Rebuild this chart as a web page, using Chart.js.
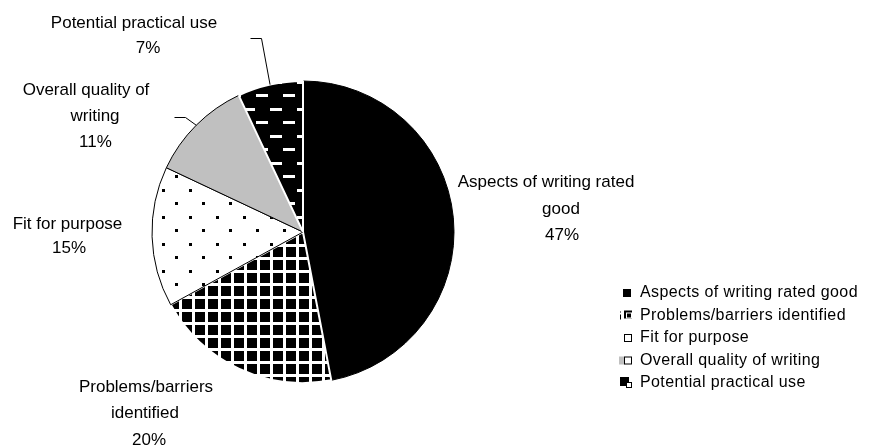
<!DOCTYPE html>
<html><head><meta charset="utf-8">
<script src="https://cdn.jsdelivr.net/npm/chart.js@4.4.0/dist/chart.umd.min.js"></script>
<style>html,body{margin:0;padding:0;background:#fff;}canvas{display:block}</style>
</head><body>
<canvas id="c" width="870" height="445"></canvas>
<script>
// ---- data ----
const categories = ['Aspects of writing rated good', 'Problems/barriers identified', 'Fit for purpose', 'Overall quality of writing', 'Potential practical use'];
const values = [47, 20, 15, 11, 7];
const labelLines = [
  ['Aspects of writing rated', 'good'],
  ['Problems/barriers', 'identified'],
  ['Fit for purpose'],
  ['Overall quality of', 'writing'],
  ['Potential practical use']
];

// ---- layout (label placement, not data) ----
const labelLayout = [
  { xs: [546, 561, 562], y0: 187, lh: 26.5 },
  { xs: [146, 145, 149], y0: 392, lh: 26.3 },
  { xs: [67.5, 69], y0: 229, lh: 24 },
  { xs: [86, 95, 95.5], y0: 95, lh: 25.8 },
  { xs: [134, 148], y0: 28, lh: 25 }
];
const leaders = { 3: [[185, 117], [174, 117]], 4: [[261, 38], [250, 38]] };

// ---- patterns ----
function tile(w, h, fn) {
  const c = document.createElement('canvas'); c.width = w; c.height = h;
  const g = c.getContext('2d'); fn(g); return c;
}
const cctx = document.getElementById('c').getContext('2d');
const gridPat = cctx.createPattern(tile(13, 13, g => {
  g.fillStyle = '#fff'; g.fillRect(0, 0, 13, 13);
  g.fillStyle = '#000'; g.fillRect(0, 0, 10, 10);
}), 'repeat');
const dotPat = cctx.createPattern(tile(27, 27, g => {
  g.fillStyle = '#fff'; g.fillRect(0, 0, 27, 27);
  g.fillStyle = '#000'; g.fillRect(0, 0, 3, 3); g.fillRect(13, 13, 3, 3);
}), 'repeat');
const dashPat = cctx.createPattern(tile(27, 27, g => {
  g.fillStyle = '#000'; g.fillRect(0, 0, 27, 27);
  g.fillStyle = '#fff'; g.fillRect(0, 0, 12, 3); g.fillRect(13, 13, 12, 3);
}), 'repeat');
const fills = ['#000000', gridPat, dotPat, '#c0c0c0', dashPat];

const FONT = '"Liberation Sans", Arial, sans-serif';

const labelPlugin = {
  id: 'sliceLabels',
  afterDatasetsDraw(chart) {
    const ctx = chart.ctx;
    const arcs = chart.getDatasetMeta(0).data;
    ctx.save();
    // leader lines
    ctx.strokeStyle = '#000'; ctx.lineWidth = 1;
    Object.keys(leaders).forEach(k => {
      const a = arcs[k];
      const mid = (a.startAngle + a.endAngle) / 2;
      const sx = a.x + Math.cos(mid) * a.outerRadius;
      const sy = a.y + Math.sin(mid) * a.outerRadius;
      const pts = leaders[k];
      ctx.beginPath(); ctx.moveTo(sx, sy);
      pts.forEach(p => ctx.lineTo(p[0] + 0.5, p[1] + 0.5));
      ctx.stroke();
    });
    // text
    ctx.fillStyle = '#000';
    ctx.font = '17px ' + FONT;
    ctx.textAlign = 'center'; ctx.textBaseline = 'alphabetic';
    values.forEach((v, i) => {
      const lines = labelLines[i].concat([v + '%']);
      const L = labelLayout[i];
      lines.forEach((t, j) => ctx.fillText(t, L.xs[j], L.y0 + j * L.lh));
    });
    ctx.restore();
  }
};

const legendPlugin = {
  id: 'sideLegend',
  afterDraw(chart) {
    const ctx = chart.ctx;
    ctx.save();
    ctx.font = '16px ' + FONT;
    try { ctx.letterSpacing = '0.4px'; } catch (e) {}
    ctx.textAlign = 'left'; ctx.textBaseline = 'alphabetic';
    categories.forEach((name, i) => {
      const by = 297 + i * 22.5;
      // marker
      if (i === 0) { ctx.fillStyle = '#000'; ctx.fillRect(623, by - 8, 8, 8); }
      if (i === 1) {
        ctx.fillStyle = '#000'; ctx.fillRect(624, by - 9, 8, 8);
        ctx.strokeStyle = '#fff'; ctx.lineWidth = 1; ctx.strokeRect(626.5, by - 6.5, 5, 5);
        ctx.fillStyle = '#000'; ctx.fillRect(620, by - 5, 1, 5); ctx.fillRect(620, by - 8, 1, 1);
      }
      if (i === 2) { ctx.strokeStyle = '#000'; ctx.lineWidth = 1; ctx.strokeRect(624.5, by - 7.5, 7, 7); }
      if (i === 3) {
        ctx.fillStyle = '#c0c0c0'; ctx.fillRect(619, by - 8, 6, 8);
        ctx.fillStyle = '#fff'; ctx.fillRect(624, by - 8, 7, 7);
        ctx.strokeStyle = '#000'; ctx.lineWidth = 1; ctx.strokeRect(624.5, by - 7.5, 7, 7);
      }
      if (i === 4) {
        ctx.fillStyle = '#000'; ctx.fillRect(620, by - 10, 9, 9);
        ctx.strokeStyle = '#000'; ctx.fillStyle = '#fff';
        ctx.fillRect(626, by - 5, 5, 5); ctx.strokeRect(626.5, by - 4.5, 5, 5);
      }
      ctx.fillStyle = '#000';
      ctx.fillText(name, 640, by);
    });
    ctx.restore();
  }
};

new Chart(cctx, {
  type: 'pie',
  data: {
    labels: categories,
    datasets: [{
      data: values,
      backgroundColor: fills,
      borderColor: ['#000', '#fff', '#000', '#000', '#fff'],
      borderWidth: [1, 2, 1, 1, 2],
      hoverOffset: 0,
      hoverBorderWidth: 0
    }]
  },
  options: {
    responsive: false,
    animation: false,
    rotation: 0,
    layout: { padding: { top: 80, left: 151, right: 415, bottom: 61 } },
    plugins: { legend: { display: false }, tooltip: { enabled: false } },
    events: []
  },
  plugins: [labelPlugin, legendPlugin]
});
</script>
</body></html>
